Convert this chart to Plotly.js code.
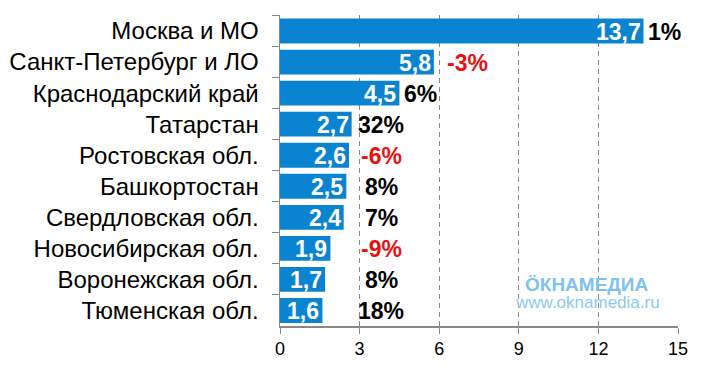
<!DOCTYPE html>
<html><head><meta charset="utf-8">
<script src="https://cdn.plot.ly/plotly-3.0.1.min.js"></script>
<style>html,body{margin:0;padding:0;background:#fff}#c{width:703px;height:368px}</style>
</head><body><div id="c"></div>
<script>
const regions = ["Москва и МО","Санкт-Петербург и ЛО","Краснодарский край","Татарстан","Ростовская обл.","Башкортостан","Свердловская обл.","Новосибирская обл.","Воронежская обл.","Тюменская обл."];
const values = [13.7,5.8,4.5,2.7,2.6,2.5,2.4,1.9,1.7,1.6];
const changes = [1,-3,6,32,-6,8,7,-9,8,18];
const xTicks = [0,3,6,9,12,15];

const FONT = 'Liberation Sans, Arial, sans-serif';
const fmt = v => v.toFixed(1).replace('.', ',');
const trace = {
  type:'bar', orientation:'h', y:regions, x:values,
  width:0.8,
  marker:{color:'#0a84d0'},
  hoverinfo:'none'
};
const ann = [];
values.forEach((v,i)=>{
  ann.push({x:v, y:regions[i], xref:'x', yref:'y', text:fmt(v), showarrow:false,
    xanchor:'right', yanchor:'middle', xshift:-1, yshift:-1,
    font:{family:FONT, size:23, color:'#fff', weight:'bold'}});
});
changes.forEach((c,i)=>{
  const v = values[i];
  const big = v > 4;
  ann.push({
    x: big ? v + (c<0 ? 0.4 : 0.1) : 3.82, y: regions[i], xref:'x', yref:'y',
    text: c + '%', showarrow:false,
    xanchor: big ? 'left' : 'center', yanchor:'middle', yshift:-1,
    font:{family:FONT, size:23, color: c<0 ? '#e81010' : '#000', weight:'bold'}
  });
});
ann.push({xref:'paper', yref:'paper', x:0.772, y:0.132, xanchor:'center', yanchor:'middle',
  text:'<b>ÖКНАМЕДИА</b>', showarrow:false,
  font:{family:FONT, size:19, color:'#7fc2ef'}});
ann.push({xref:'paper', yref:'paper', x:0.772, y:0.074, xanchor:'center', yanchor:'middle',
  text:'www.oknamedia.ru', showarrow:false,
  font:{family:FONT, size:17, color:'#8ccaf1'}});

const layout = {
  width:703, height:368,
  margin:{l:279.5, r:25, t:15, b:42},
  paper_bgcolor:'#fff', plot_bgcolor:'#fff',
  showlegend:false,
  xaxis:{range:[0,15], tickvals:xTicks, ticktext:xTicks.map(String),
    showgrid:true, gridcolor:'#8a8a8a', griddash:'5px,4px', gridwidth:1,
    showline:true, linecolor:'#888', linewidth:1.5, zeroline:false,
    ticks:'outside', ticklen:6, tickcolor:'#888',
    tickfont:{family:FONT, size:18, color:'#000'}},
  yaxis:{autorange:'reversed', type:'category', showline:true, linecolor:'#888', linewidth:1.5,
    ticks:'outside', tickson:'boundaries', ticklen:7, tickcolor:'#888', showgrid:false,
    ticklabelstandoff:15,
    tickfont:{family:FONT, size:24, color:'#000'}},
  bargap:0.2,
  annotations:ann
};
Plotly.newPlot('c',[trace],layout,{staticPlot:true, displayModeBar:false});
</script></body></html>
